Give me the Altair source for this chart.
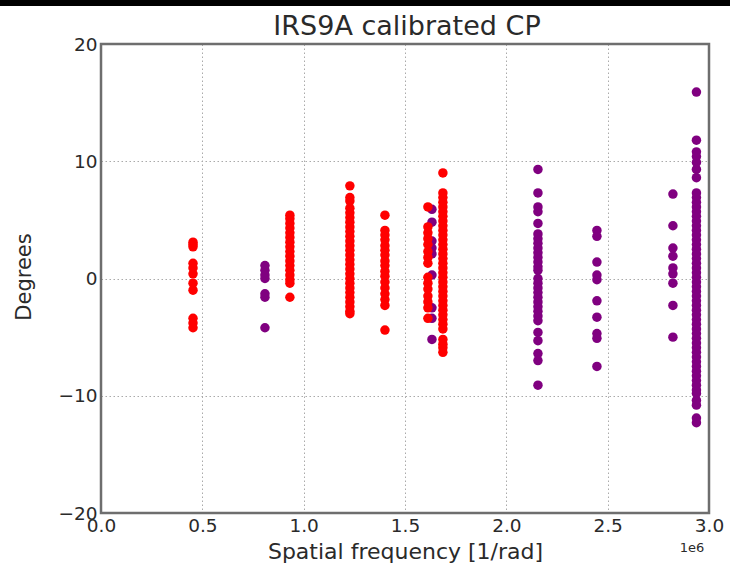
import altair as alt
import pandas as pd

# Spatial frequency (units of 1e6 1/rad) and closure phase (degrees) per baseline group
red_freqs = [0.454, 0.932, 1.228, 1.401, 1.613, 1.687]
red_degs = [
    [3.1, 2.9, 2.7, 1.3, 0.9, 0.4, -0.4, -1.0, -3.4, -3.8, -4.2],
    [5.4, 5.1, 4.7, 4.3, 3.9, 3.5, 3.1, 2.7, 2.3, 1.9, 1.5, 1.1, 0.7, 0.3, -0.1, -0.4, -1.6],
    [7.9, 6.9, 6.6, 6.0, 5.6, 5.2, 4.8, 4.4, 4.0, 3.6, 3.2, 2.8, 2.4, 2.0, 1.6, 1.2, 0.8, 0.4,
     0.0, -0.4, -0.8, -1.2, -1.6, -2.0, -2.4, -2.8, -3.0],
    [5.4, 4.1, 3.7, 3.3, 2.8, 2.4, 2.0, 1.5, 1.1, 0.6, 0.2, -0.3, -0.8, -1.3, -1.8, -2.3, -4.4],
    [6.1, 4.4, 3.9, 3.4, 2.9, 2.3, 1.8, 1.3, 0.1, -0.4, -0.9, -1.5, -2.0, -2.5, -3.4],
    [9.0, 7.3, 6.9, 6.5, 6.1, 5.7, 5.3, 4.9, 4.5, 4.1, 3.7, 3.3, 2.9, 2.5, 2.1, 1.7, 1.3, 0.9,
     0.5, 0.1, -0.3, -0.7, -1.1, -1.5, -1.9, -2.3, -2.7, -3.1, -3.5, -3.9, -4.3, -5.2, -5.6,
     -5.9, -6.3],
]

purple_freqs = [0.809, 1.633, 2.156, 2.447, 2.822, 2.938]
purple_degs = [
    [1.1, 0.7, 0.3, 0.0, -1.3, -1.6, -4.2],
    [5.9, 4.8, 3.2, 2.6, 2.1, 0.3, -2.5, -3.4, -5.2],
    [9.3, 7.3, 6.1, 5.7, 4.7, 3.8, 3.4, 3.0, 2.6, 2.2, 1.8, 1.4, 1.0, 0.7, 0.0, -0.4, -0.8,
     -1.2, -1.6, -2.0, -2.4, -2.8, -3.2, -3.6, -4.6, -5.3, -6.4, -7.0, -9.1],
    [4.1, 3.6, 1.4, 0.3, -0.1, -1.9, -3.3, -4.7, -5.1, -7.5],
    [7.2, 4.5, 2.6, 1.9, 0.9, 0.4, -0.4, -2.3, -5.0],
    [15.9, 11.8, 10.8, 10.4, 9.9, 9.3, 8.6, 7.3, 6.9, 6.5, 6.1, 5.7, 5.3, 4.9, 4.5, 4.1, 3.7,
     3.3, 2.9, 2.5, 2.1, 1.7, 1.3, 0.9, 0.5, 0.1, -0.3, -0.7, -1.1, -1.5, -1.9, -2.3, -2.7,
     -3.1, -3.5, -3.9, -4.3, -4.7, -5.1, -5.5, -5.9, -6.3, -6.7, -7.1, -7.5, -7.9, -8.3,
     -8.7, -9.1, -9.5, -9.8, -10.4, -10.8, -11.9, -12.3],
]

x_ticks = [0.0, 0.5, 1.0, 1.5, 2.0, 2.5, 3.0]
y_ticks = [-20, -10, 0, 10, 20]
title_text = "IRS9A calibrated CP"
x_title = "Spatial frequency [1/rad]"
y_title = "Degrees"
offset_label = "1e6"

rows = []
for f, ds in zip(purple_freqs, purple_degs):
    for d in ds:
        rows.append({"freq": f, "deg": d, "grp": "purple"})
for f, ds in zip(red_freqs, red_degs):
    for d in ds:
        rows.append({"freq": f, "deg": d, "grp": "red"})
df = pd.DataFrame(rows)

FONT = "DejaVu Sans"
W, H = 608, 469
TXT = "#2a2a2a"

x_enc = alt.X(
    "freq:Q",
    scale=alt.Scale(domain=[0, 3], nice=False, zero=False),
    axis=alt.Axis(
        values=x_ticks, format=".1f", title=x_title,
        titleFontSize=22, titleFont=FONT, titleFontWeight="normal", titleColor=TXT,
        titleX=W / 2, titleY=38, titleBaseline="middle", titleAlign="center",
        labelFontSize=18.5, labelFont=FONT, labelColor=TXT, labelPadding=3,
        labelBaseline="top", labelFlush=False,
        grid=True, gridDash=[1.5, 2.5], gridColor="#aaaaaa", gridWidth=1,
        domain=False, ticks=False,
    ),
)
y_enc = alt.Y(
    "deg:Q",
    scale=alt.Scale(domain=[-20, 20], nice=False, zero=False),
    axis=alt.Axis(
        values=y_ticks, title=y_title, labelExpr="replace(datum.label, '-', '\u2212')",
        titleFontSize=21, titleFont=FONT, titleFontWeight="normal", titleColor=TXT,
        titleX=-77, titleY=H / 2 - 2, titleAngle=270, titleBaseline="middle", titleAlign="center",
        labelFontSize=18.5, labelFont=FONT, labelColor=TXT, labelPadding=4,
        labelBaseline="middle", labelFlush=False,
        grid=True, gridDash=[1.5, 2.5], gridColor="#aaaaaa", gridWidth=1,
        domain=False, ticks=False,
    ),
)

points = alt.Chart(df).mark_circle(size=90, opacity=1).encode(
    x=x_enc,
    y=y_enc,
    color=alt.Color("grp:N", scale=alt.Scale(domain=["purple", "red"], range=["#800080", "#ff0000"]), legend=None),
    order=alt.Order("grp:N"),
)

one = pd.DataFrame({"a": [0]})

frame = alt.Chart(one).mark_rect(fill=None, stroke="#6e6e6e", strokeWidth=2.5).encode(
    x=alt.value(0), x2=alt.value(W), y=alt.value(0), y2=alt.value(H)
)

offset_text = alt.Chart(pd.DataFrame({"t": [offset_label]})).mark_text(
    font=FONT, fontSize=13, color=TXT, align="center", baseline="middle"
).encode(text="t:N", x=alt.value(W - 17), y=alt.value(H + 35))

title_mark = alt.Chart(pd.DataFrame({"t": [title_text]})).mark_text(
    font=FONT, fontSize=27, color=TXT, align="center", baseline="alphabetic"
).encode(text="t:N", x=alt.value(W / 2 + 2), y=alt.value(-9))

band = alt.Chart(one).mark_rect(color="black").encode(
    x=alt.value(-101), x2=alt.value(W + 21), y=alt.value(-44), y2=alt.value(-38)
)

chart = alt.layer(points, frame, offset_text, title_mark, band).properties(
    width=W, height=H,
    padding={"left": 101, "top": 44, "right": 21, "bottom": 61},
    autosize=alt.AutoSizeParams(type="none"),
).configure_view(stroke=None).configure(background="white")

chart.save("out.html", embed_options={"renderer": "svg", "actions": False})
